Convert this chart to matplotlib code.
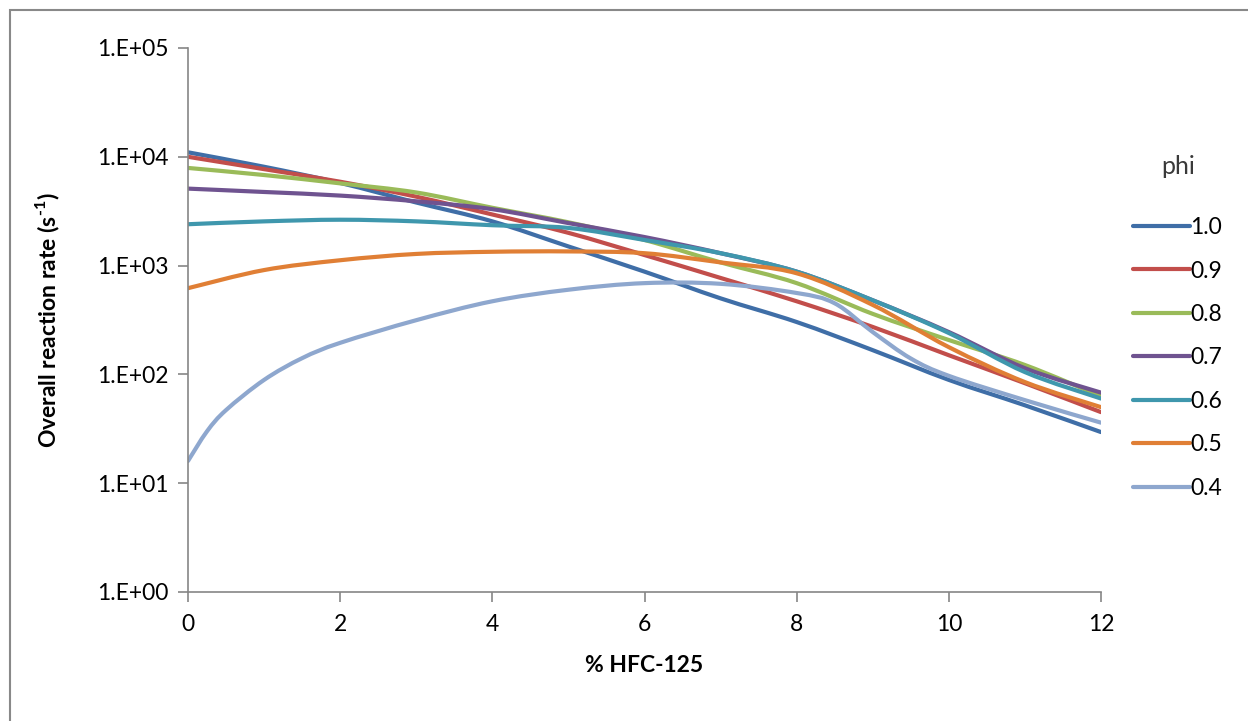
import numpy as np
import matplotlib
matplotlib.use("Agg")
from matplotlib import pyplot as plt, patches, ticker
from matplotlib.path import Path
from matplotlib.lines import Line2D

# % HFC-125 (x) and overall reaction rate (s^-1) for each equivalence ratio
pct = [0, 1, 2, 3, 4, 5, 6, 7, 8, 9, 10, 11, 12]
pct_04 = [0, 0.25, 0.5, 1, 1.5, 2, 3, 4, 5, 6, 7, 8, 8.5, 9, 9.5, 10, 11, 12]

rate_10 = [11000, 8100, 5750, 3800, 2550, 1500, 880, 500, 303, 167, 89, 52, 29.5]
rate_09 = [10000, 7700, 5900, 4300, 2950, 2000, 1250, 770, 470, 273, 150, 83, 45]
rate_08 = [7900, 6800, 5700, 4700, 3400, 2500, 1720, 1070, 690, 360, 207, 122, 63]
rate_07 = [5100, 4750, 4400, 3900, 3300, 2460, 1830, 1300, 880, 480, 245, 114, 68]
rate_06 = [2400, 2550, 2640, 2550, 2350, 2220, 1720, 1300, 880, 480, 240, 105, 60]
rate_05 = [620, 910, 1120, 1280, 1340, 1350, 1300, 1070, 850, 435, 178, 85, 50]
rate_04 = [16, 30, 47, 89, 141, 195, 315, 470, 600, 690, 680, 560, 450, 245,
           140, 97, 58, 36]

phi_labels = ["1.0", "0.9", "0.8", "0.7", "0.6", "0.5", "0.4"]
colors = ["#3F6EA7", "#C24E4B", "#9ABB59", "#6F5390", "#3F97AD", "#E07F35", "#8EA7CE"]

series = [
    (pct, rate_10),
    (pct, rate_09),
    (pct, rate_08),
    (pct, rate_07),
    (pct, rate_06),
    (pct, rate_05),
    (pct_04, rate_04),
]


def smooth_path(x, y):
    # Excel style "smoothed line": cubic Bezier through the points,
    # built in (x, log y) which is linear on screen for this axes
    p = np.column_stack([np.asarray(x, float), np.log10(y)])
    pe = np.vstack([p[0], p, p[-1]])
    verts = [p[0]]
    codes = [Path.MOVETO]
    for i in range(len(p) - 1):
        p0, p1, p2, p3 = pe[i], pe[i + 1], pe[i + 2], pe[i + 3]
        verts += [p1 + (p2 - p0) / 6, p2 - (p3 - p1) / 6, p2]
        codes += [Path.CURVE4] * 3
    verts = np.array(verts)
    verts[:, 1] = 10 ** verts[:, 1]
    return Path(verts, codes)


plt.rcParams["font.family"] = ["Lato", "DejaVu Sans"]
plt.rcParams["mathtext.fontset"] = "custom"
plt.rcParams["mathtext.rm"] = "Lato:bold"
plt.rcParams["mathtext.bf"] = "Lato:bold"

fig = plt.figure(figsize=(12.48, 7.21), dpi=100)
ax = fig.add_axes([188 / 1248, 1 - 592 / 721, (1101 - 188) / 1248, (592 - 48) / 721])

handles = []
for (x, y), lab, c in zip(series, phi_labels, colors):
    ax.add_patch(patches.PathPatch(smooth_path(x, y), fill=False, edgecolor=c,
                                   lw=3.0, capstyle="round", joinstyle="round"))
    handles.append(Line2D([], [], color=c, lw=3.0, solid_capstyle="round"))

ax.set_yscale("log")
ax.set_ylim(1, 1e5)
ax.set_xlim(0, 12)
ax.set_xticks(range(0, 13, 2))
ax.yaxis.set_major_locator(ticker.LogLocator(base=10, numticks=10))
ax.yaxis.set_minor_locator(ticker.NullLocator())
ax.yaxis.set_major_formatter(
    ticker.FuncFormatter(lambda v, p: "1.E+%02d" % round(np.log10(v))))

for s in ["top", "right"]:
    ax.spines[s].set_visible(False)
for s in ["left", "bottom"]:
    ax.spines[s].set_color("#868686")
    ax.spines[s].set_linewidth(1.2)
ax.tick_params(axis="both", color="#868686", width=1.2, length=7,
               labelsize=16.5, labelcolor="black")
ax.tick_params(axis="x", pad=9)
ax.tick_params(axis="y", pad=7)

ax.set_xlabel("% HFC-125", fontsize=16.5, fontweight="bold", labelpad=14)
ax.set_ylabel(r"Overall reaction rate (s$^{\text{-1}}$)", fontsize=16.5,
              fontweight="bold", labelpad=25)

leg = ax.legend(handles, phi_labels, loc="upper left",
                bbox_to_anchor=(1124 / 1248, 1 - 146 / 721),
                bbox_transform=fig.transFigure, frameon=False, fontsize=16.5,
                title="phi", title_fontsize=18, handlelength=2.5,
                handletextpad=0.0, labelspacing=0.98, borderaxespad=0)
leg.get_title().set_color("#3a3a3a")
leg._legend_box.sep = 28

# outer chart border
fig.patches.append(patches.Rectangle(
    (10 / 1248, -0.1), 1.2, 1 - 10 / 721 + 0.1, transform=fig.transFigure,
    fill=False, edgecolor="#898989", linewidth=1.5))

fig.savefig("out.png", dpi=100)
